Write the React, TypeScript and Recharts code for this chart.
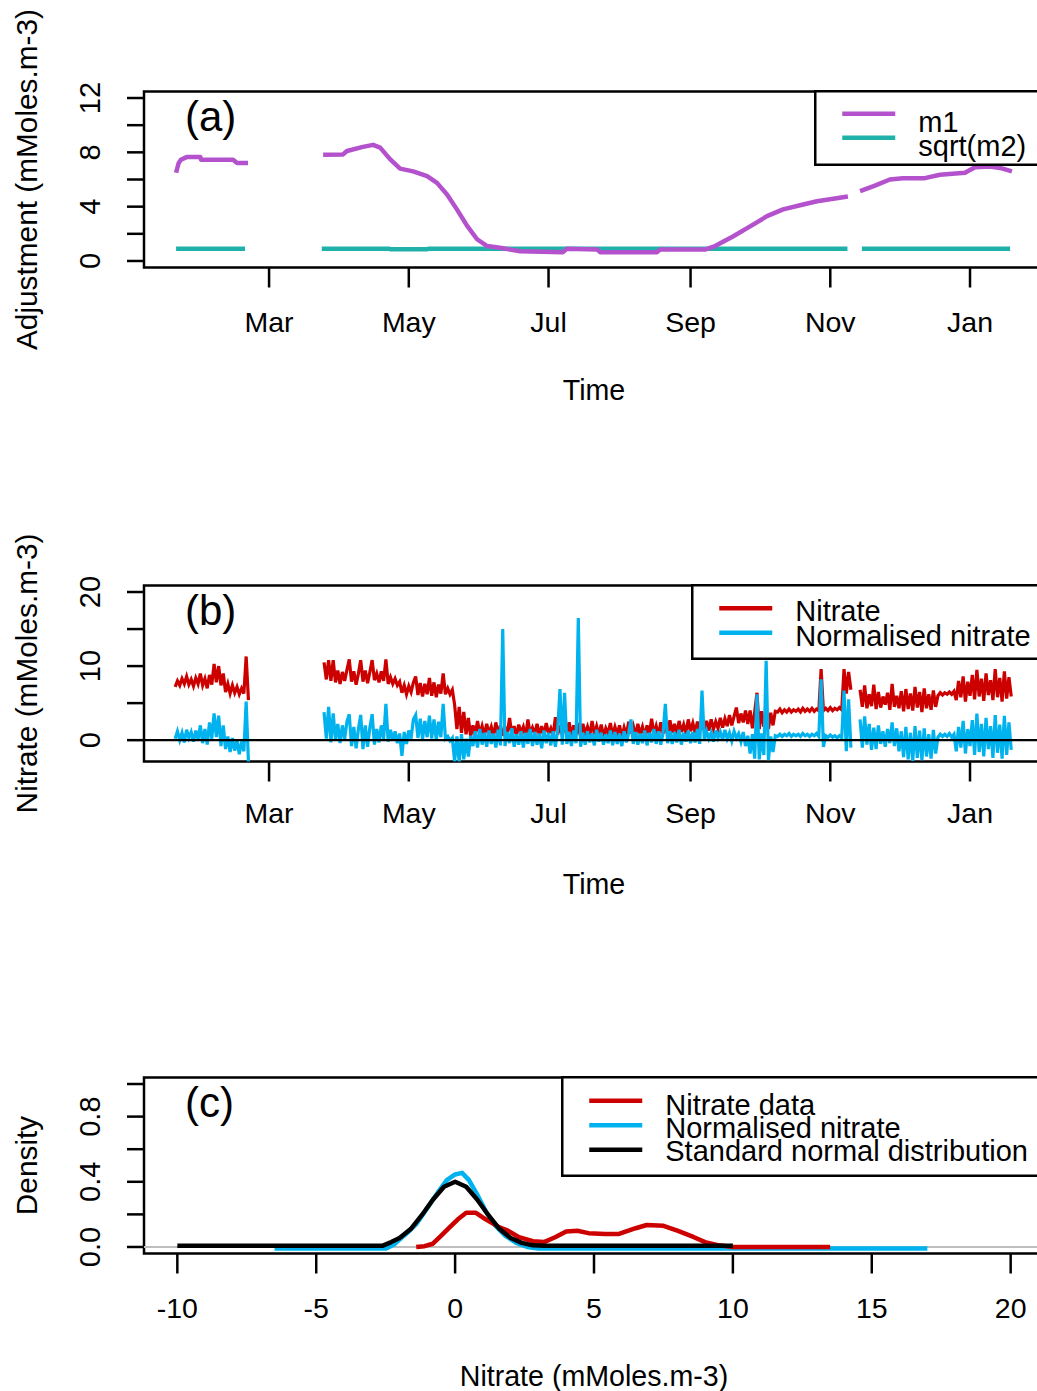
import React from 'react';
import { LineChart, Line, XAxis, YAxis, ReferenceLine, ReferenceArea, Legend, Label } from 'recharts';

const FONT = '"Liberation Sans", Arial, Helvetica, sans-serif';
const FS_XTICK = 28.5;
const FS_YTICK = 29;
const FS_XTITLE = 28.6;
const FS_YTITLE = 29.8;
const FS_LEGEND = 29;
const FS_LETTER = 42;

const PURPLE = '#B452CD';
const TEAL = '#20B2AA';
const RED = '#CD0000';
const BLUE = '#00B2EE';
const GREY = '#BEBEBE';

// ---------- time axis (day of year, Jan 1 = 0) ----------
const monthTicks = [59, 120, 181, 243, 304, 365];
const monthLabels = ['Mar', 'May', 'Jul', 'Sep', 'Nov', 'Jan'];
const dayDomain: [number, number] = [4.4, 397.3];

// ---------- panel (a) ----------
const adjTicks = [0, 2, 4, 6, 8, 10, 12];
const adjLabelled = [0, 4, 8, 12];
const adjDomain: [number, number] = [-0.48, 12.48];

const m1: Array<[number, number | null]> = [
  [18.4, 6.5], [19.5, 7.2], [20.5, 7.45], [23, 7.65], [29, 7.65], [29.3, 7.45], [43.3, 7.45], [45, 7.22], [49.8, 7.22],
  [66, null],
  [82.6, 7.82], [91.3, 7.85], [93, 8.1], [100, 8.4], [104.4, 8.55], [107.5, 8.35], [111.8, 7.5], [116.2, 6.8],
  [121.9, 6.6], [128, 6.25], [132.3, 5.75], [136.7, 4.9], [141, 3.8], [145.4, 2.6], [149.8, 1.6], [154.2, 1.1],
  [159.8, 0.97], [168.6, 0.72], [187.3, 0.65], [189, 0.9], [202.2, 0.85], [203.5, 0.65], [228.4, 0.65], [229.7, 0.84],
  [249.3, 0.84], [253.7, 1.1], [261.5, 1.8], [269, 2.55], [276.4, 3.3], [283.4, 3.8], [290.8, 4.1], [298.2, 4.4],
  [311.7, 4.75],
  [314, null],
  [317, 5.15], [323.5, 5.55], [330, 6.0], [335.7, 6.1], [345.3, 6.1], [351.9, 6.35], [362.8, 6.5], [367.2, 6.9],
  [373.7, 6.95], [378.1, 6.85], [383.3, 6.6],
];

const sqrtM2: Array<[number, number | null]> = [
  [18.4, 0.9], [48.5, 0.9],
  [66, null],
  [82, 0.9], [111.5, 0.9], [112, 0.86], [128, 0.86], [128.5, 0.9], [311.5, 0.9],
  [314, null],
  [317.8, 0.9], [382.5, 0.9],
];

// ---------- panel (b) ----------
const nitTicks = [0, 5, 10, 15, 20];
const nitLabelled = [0, 10, 20];
const nitDomain: [number, number] = [-2.88, 20.88];

// daily values; segments start on these days
const segStartDays = [18, 83, 317];

const nitrateA = [
  7.2, 8.0, 7.4, 8.3, 7.6, 8.6, 7.5, 8.2, 7.3, 8.4,
  7.6, 9.0, 7.4, 8.3, 7.0, 8.8, 7.5, 10.3, 7.8, 10.0,
  7.4, 9.0, 6.5, 7.6, 6.3, 7.4, 6.4, 7.2, 6.2, 7.0,
  6.3, 11.3, 5.4,
];
const normA = [
  0.2, 1.2, 0.0, 1.0, -0.3, 1.4, 0.3, 1.1, -0.2, 1.3,
  0.1, 2.0, -0.4, 1.5, -0.6, 2.4, 0.2, 3.6, 0.4, 3.3,
  -0.8, 2.0, -1.2, 0.5, -1.6, 0.3, -1.4, 0.0, -1.9, -0.2,
  -1.5, 5.2, -3.0,
];

const nitrateBC = [
  10.5, 8.2, 10.8, 8.0, 10.8, 7.8, 9.4, 7.6, 9.2, 8.0,
  9.5, 10.9, 7.9, 9.3, 7.5, 9.0, 10.8, 7.9, 9.4, 7.7,
  9.2, 10.8, 8.1, 9.0, 7.8, 9.3, 8.0, 10.9, 7.6, 8.5,
  7.6, 8.3, 7.4, 7.9, 6.4, 7.4, 6.2, 7.3, 6.5, 7.8,
  8.6, 6.1, 7.7, 5.9, 7.6, 6.2, 8.4, 6.0, 7.8, 5.8,
  7.5, 6.3, 9.0, 6.2, 7.0, 6.2, 6.8, 4.8, 1.5, 4.5,
  1.0, 3.8, 0.8, 3.0, 0.5, 2.0, 0.7, 2.6, 0.8, 1.9,
  0.6, 2.2, 0.9, 1.8, 0.5, 2.4, 0.8, 2.0, 0.6, 1.7,
  0.9, 3.0, 0.7, 1.9, 0.6, 2.1, 1.0, 1.8, 0.5, 2.8,
  0.8, 1.7, 0.9, 2.2, 0.6, 1.9, 0.7, 2.3, 0.9, 1.6,
  0.6, 3.1, 0.8, 2.0, 0.7, 1.8, 1.0, 2.4, 0.6, 2.0,
  0.8, 1.7, 0.5, 2.2, 0.9, 1.8, 0.6, 2.6, 0.8, 1.9,
  0.7, 2.1, 0.5, 1.6, 0.9, 2.3, 0.6, 1.8, 0.8, 2.0,
  0.4, 1.7, 0.7, 2.5, 0.9, 1.9, 0.6, 2.2, 0.8, 1.8,
  0.5, 2.0, 0.7, 2.9, 0.8, 1.9, 0.6, 2.4, 0.9, 2.0,
  0.7, 2.7, 1.0, 2.2, 0.8, 2.6, 1.1, 2.1, 0.9, 2.8,
  1.2, 2.3, 1.0, 2.5, 1.3, 2.2, 1.4, 2.6, 1.3, 2.8,
  1.5, 2.5, 1.6, 3.0, 1.7, 2.9, 1.9, 3.4, 2.0, 3.2,
  4.4, 2.3, 3.6, 2.4, 4.0, 2.2, 4.0, 1.6, 3.8, 6.4,
  1.5, 3.9, 1.8, 4.2, 1.5, 3.7, 2.0, 3.9, 3.8, 4.2,
  3.7, 4.1, 3.8, 4.2, 3.8, 4.1, 3.9, 4.2, 3.8, 4.3,
  3.9, 4.2, 3.9, 4.3, 3.9, 4.2, 4.0, 9.6, 4.0, 4.3,
  4.0, 4.4, 4.0, 4.3, 4.1, 4.4, 4.1, 9.6, 6.3, 9.2,
  6.8,
];
const normBC = [
  3.8, 0.2, 4.5, -0.3, 3.6, 0.0, 2.2, -0.4, 2.0, 0.2,
  2.5, 3.5, -0.8, 1.8, -1.1, 1.5, 3.4, -1.2, 2.0, -0.9,
  1.7, 3.5, -0.6, 1.5, -0.3, 2.0, 0.1, 4.9, -0.2, 1.4,
  0.0, 1.2, -0.4, 0.9, -2.1, 1.1, -0.5, 1.3, 0.2, 2.8,
  3.4, 0.3, 2.9, 0.1, 2.6, 0.4, 3.3, 0.2, 2.8, 0.0,
  2.5, 0.4, 4.9, 0.2, 0.5, -0.1, 0.3, -2.9, 0.5, -3.0,
  0.8, -2.6, 0.2, -2.2, 0.6, -0.8, 1.2, -1.0, 1.5, -0.6,
  1.0, -0.9, 1.3, -0.5, 0.9, -1.0, 1.4, -0.7, 15.0, -0.8,
  1.1, -0.4, 1.6, -0.9, 0.8, -0.6, 1.2, -1.0, 1.0, -0.5,
  1.5, -0.8, 1.1, -0.6, 0.9, -1.1, 1.3, -0.4, 1.0, -0.7,
  1.2, -0.9, 1.4, 6.9, -0.6, 6.4, -0.5, 1.1, -0.8, 1.3,
  -0.4, 16.5, -0.9, 1.0, -0.6, 1.2, -0.3, 0.9, -0.7, 1.4,
  -0.2, 1.0, -0.6, 0.8, -0.4, 1.3, -0.7, 1.1, -0.5, 0.9,
  -0.8, 1.2, -0.3, 1.0, 2.8, -0.5, 1.1, -0.6, 0.9, -0.4,
  1.3, -0.7, 1.0, -0.3, 1.5, -0.5, 1.2, -0.6, 1.0, 4.9,
  -0.4, 1.2, -0.5, 1.1, -0.3, 1.4, -0.6, 1.0, -0.2, 1.3,
  -0.4, 1.1, -0.3, 1.5, -0.5, 6.7, 0.0, 1.2, 0.2, 1.0,
  -0.2, 1.3, 0.3, 1.1, 0.0, 1.4, 0.2, 1.0, -0.1, 1.2,
  0.3, 0.9, -0.2, 1.1, -0.8, 0.6, -1.8, 0.8, -2.5, 6.2,
  -2.6, 0.9, -2.0, 10.7, -2.7, 0.5, -1.6, 0.6, 0.5, 0.8,
  0.5, 0.8, 0.6, 0.9, 0.5, 0.8, 0.6, 0.8, 0.5, 0.9,
  0.6, 0.8, 0.5, 0.8, 0.6, 0.9, 0.5, 8.2, -0.9, 0.6,
  0.4, 0.7, 0.4, 0.6, 0.3, 0.6, 0.3, 6.7, -1.5, 5.5,
  -1.0,
];

const nitrateD = [
  6.8, 4.5, 7.4, 4.3, 6.2, 4.6, 7.5, 4.2, 6.5, 4.4,
  5.9, 4.8, 6.4, 4.1, 7.6, 4.5, 6.0, 4.3, 6.6, 3.9,
  6.9, 4.2, 6.3, 4.0, 7.2, 4.4, 6.5, 3.8, 7.0, 4.3,
  6.2, 4.1, 6.7, 4.5, 6.0, 6.4, 6.1, 6.4, 6.2, 6.5,
  6.2, 6.6, 5.4, 8.0, 5.8, 8.6, 5.2, 7.9, 6.0, 8.8,
  5.5, 9.5, 5.9, 8.3, 5.3, 9.0, 6.1, 8.1, 5.4, 9.6,
  5.8, 8.4, 5.2, 9.3, 5.6, 8.5, 5.9,
];
const normD = [
  2.8, -1.0, 3.2, -0.6, 2.2, -1.3, 1.7, -1.2, 2.0, -0.5,
  1.2, -0.9, 1.5, -0.4, 2.4, -0.8, 1.6, -1.5, 1.2, -2.3,
  1.8, -2.6, 1.0, -2.8, 1.9, -2.4, 1.3, -2.7, 1.6, -2.2,
  0.8, -2.5, 1.4, -1.8, 0.4, 0.8, 0.5, 0.8, 0.5, 0.9,
  0.4, 0.8, -1.5, 1.8, -1.0, 2.6, -1.8, 1.5, -0.8, 2.7,
  -2.0, 3.6, -1.6, 2.2, -2.2, 3.0, -1.2, 1.9, -2.4, 3.4,
  -1.7, 2.1, -2.5, 3.3, -2.0, 2.4, -1.3,
];

// ---------- panel (c) ----------
const densTicks = [0, 0.2, 0.4, 0.6, 0.8, 1.0];
const densLabelled = [0, 0.4, 0.8];
const densDomain: [number, number] = [-0.04, 1.04];
const densXTicks = [-10, -5, 0, 5, 10, 15, 20];
const densXDomain: [number, number] = [-11.2, 21.2];

const nitrateDensity: Array<[number, number]> = [
  [-1.4, 0], [-1.1, 0.005], [-0.8, 0.02], [-0.5, 0.07], [-0.2, 0.12], [0.1, 0.17], [0.4, 0.21], [0.75, 0.21],
  [1.1, 0.17], [1.6, 0.12], [1.9, 0.1], [2.3, 0.06], [2.8, 0.035], [3.2, 0.03], [3.6, 0.06], [4.0, 0.095],
  [4.4, 0.1], [4.8, 0.085], [5.4, 0.08], [5.9, 0.08], [6.5, 0.115], [6.9, 0.135], [7.5, 0.13], [8.0, 0.1],
  [8.6, 0.06], [9.0, 0.03], [9.5, 0.01], [10, 0.0], [13.5, 0.0],
];
const normDensity: Array<[number, number]> = [
  [-6.5, -0.01], [-2.5, -0.01], [-2.2, 0.015], [-2.0, 0.045], [-1.7, 0.09], [-1.4, 0.14], [-1.0, 0.24],
  [-0.6, 0.34], [-0.3, 0.41], [0.0, 0.445], [0.25, 0.455], [0.5, 0.41], [0.8, 0.32], [1.1, 0.22], [1.4, 0.14],
  [1.8, 0.07], [2.2, 0.025], [2.6, 0.0], [3.0, -0.01], [17, -0.01],
];
const stdNormDensity: Array<[number, number]> = [
  [-10, 0.008], [-2.6, 0.008], [-2.3, 0.03], [-2.0, 0.055], [-1.6, 0.11], [-1.2, 0.195], [-0.8, 0.29],
  [-0.4, 0.37], [0, 0.4], [0.4, 0.37], [0.8, 0.29], [1.2, 0.195], [1.6, 0.11], [2.0, 0.055], [2.4, 0.025],
  [2.8, 0.01], [3.2, 0.008], [10, 0.008],
];

// ---------- helpers ----------
const pairRows = (pts: Array<[number, number | null]>) => pts.map(([x, v]) => ({ x, v }));

function dailyRows(starts: number[], segs: number[][]) {
  const rows: Array<{ x: number; v: number | null }> = [];
  segs.forEach((seg, i) => {
    if (i > 0) {
      const prevEnd = starts[i - 1] + segs[i - 1].length - 1;
      rows.push({ x: (prevEnd + starts[i]) / 2, v: null });
    }
    seg.forEach((v, j) => rows.push({ x: starts[i] + j, v }));
  });
  return rows;
}

const m1Rows = pairRows(m1);
const m2Rows = pairRows(sqrtM2);
const nitrateRows = dailyRows(segStartDays, [nitrateA, nitrateBC, nitrateD]);
const normRows = dailyRows(segStartDays, [normA, normBC, normD]);
const nitDensRows = pairRows(nitrateDensity);
const normDensRows = pairRows(normDensity);
const stdDensRows = pairRows(stdNormDensity);

// ---------- layout ----------
const CHART_W = 1080;
const PLOT_TOP = 91.5;
const PLOT_H = 176;
const MARGIN = { top: PLOT_TOP, right: 36, bottom: 0, left: 0 };
const Y_AXIS_W = 144;

const txt = (fs: number) => ({ fontSize: fs, fontFamily: FONT, fill: '#000' });

const monthTick = (props: any) => {
  const { x, y, payload } = props;
  const i = monthTicks.indexOf(payload.value);
  return (
    <text x={x} y={y} dy="0.71em" textAnchor="middle" {...txt(FS_XTICK)}>
      {monthLabels[i]}
    </text>
  );
};

const numTick = (props: any) => {
  const { x, y, payload } = props;
  return (
    <text x={x} y={y} dy="0.71em" textAnchor="middle" {...txt(FS_XTICK)}>
      {String(payload.value)}
    </text>
  );
};

const makeYTick = (labelled: number[], fmt: (v: number) => string) => (props: any) => {
  const { x, y, payload } = props;
  const v = Number(payload.value);
  if (!labelled.some((l) => Math.abs(l - v) < 1e-9)) return <g />;
  return (
    <text x={x} y={y} transform={`rotate(-90 ${x} ${y})`} textAnchor="middle" {...txt(FS_YTICK)}>
      {fmt(v)}
    </text>
  );
};

const xTitle = (title: string) => (props: any) => {
  const vb = props.viewBox || {};
  return (
    <text x={vb.x + vb.width / 2} y={vb.y + 132} textAnchor="middle" {...txt(FS_XTITLE)}>
      {title}
    </text>
  );
};

const yTitle = (title: string) => (props: any) => {
  const vb = props.viewBox || {};
  const cy = vb.y + vb.height / 2;
  const x = 37;
  return (
    <text x={x} y={cy} transform={`rotate(-90 ${x} ${cy})`} textAnchor="middle" {...txt(FS_YTITLE)}>
      {title}
    </text>
  );
};

const panelLetter = (letter: string) => (props: any) => {
  const vb = props.viewBox || {};
  return (
    <text x={vb.x + 41} y={vb.y + 39} {...txt(FS_LETTER)}>
      {letter}
    </text>
  );
};

type LegItem = { color: string; label: string; lineY: number; textY: number };
const legendContent = (items: LegItem[], boxH: number, lineW: number) => () => (
  <svg width={460} height={boxH + 3} style={{ display: 'block', overflow: 'visible' }}>
    <rect x={1.25} y={1.25} width={500} height={boxH} fill="#fff" stroke="#000" strokeWidth={2.5} />
    {items.map((it) => (
      <g key={it.label}>
        <line x1={1.25 + 27} x2={1.25 + 80} y1={1.25 + it.lineY} y2={1.25 + it.lineY} stroke={it.color} strokeWidth={lineW} />
        <text x={1.25 + 103} y={1.25 + it.textY} {...txt(FS_LEGEND)}>
          {it.label}
        </text>
      </g>
    ))}
  </svg>
);

const legendA: LegItem[] = [
  { color: PURPLE, label: 'm1', lineY: 22.5, textY: 40.5 },
  { color: TEAL, label: 'sqrt(m2)', lineY: 46.5, textY: 64.5 },
];
const legendB: LegItem[] = [
  { color: RED, label: 'Nitrate', lineY: 23, textY: 36 },
  { color: BLUE, label: 'Normalised nitrate', lineY: 47.5, textY: 60.5 },
];
const legendC: LegItem[] = [
  { color: RED, label: 'Nitrate data', lineY: 23.5, textY: 37.5 },
  { color: BLUE, label: 'Normalised nitrate', lineY: 48, textY: 60.5 },
  { color: '#000', label: 'Standard normal distribution', lineY: 72.5, textY: 84 },
];

const legendWrap = (left: number, h: number) => ({
  position: 'absolute' as const,
  left: left - 1.25,
  top: PLOT_TOP - 1.25,
  width: 460,
  height: h + 3,
  lineHeight: 0,
});

const boxProps = { fill: 'none', fillOpacity: 0, stroke: '#000', strokeWidth: 2.5, ifOverflow: 'visible' as const };
const tickLineStyle = { stroke: '#000', strokeWidth: 2.5 };

export default function App() {
  return (
    <div
      style={{
        position: 'absolute',
        left: 0,
        top: 0,
        width: 1037,
        height: 1391,
        overflow: 'hidden',
        background: '#fff',
      }}
    >
      {/* Panel (a) */}
      <div style={{ position: 'absolute', left: 0, top: 0 }}>
        <LineChart width={CHART_W} height={460} margin={MARGIN}>
          <XAxis
            dataKey="x"
            type="number"
            domain={dayDomain}
            allowDataOverflow
            ticks={monthTicks}
            interval={0}
            height={460 - PLOT_TOP - PLOT_H}
            axisLine={false}
            tickLine={tickLineStyle}
            tickSize={20}
            tickMargin={24}
            tick={monthTick}
            label={<Label content={xTitle('Time')} />}
          />
          <YAxis
            type="number"
            domain={adjDomain}
            allowDataOverflow
            ticks={adjTicks}
            interval={0}
            width={Y_AXIS_W}
            axisLine={false}
            tickLine={tickLineStyle}
            tickSize={17}
            tickMargin={27}
            tick={makeYTick(adjLabelled, (v) => String(v))}
            label={<Label content={yTitle('Adjustment (mMoles.m-3)')} />}
          />
          <ReferenceArea
            x1={dayDomain[0]}
            x2={dayDomain[1]}
            y1={adjDomain[0]}
            y2={adjDomain[1]}
            {...boxProps}
            label={<Label content={panelLetter('(a)')} />}
          />
          <Line data={m2Rows} dataKey="v" stroke={TEAL} strokeWidth={4.5} dot={false} activeDot={false} isAnimationActive={false} connectNulls={false} strokeLinejoin="round" />
          <Line data={m1Rows} dataKey="v" stroke={PURPLE} strokeWidth={4.5} dot={false} activeDot={false} isAnimationActive={false} connectNulls={false} strokeLinejoin="round" />
          <Legend
            layout="vertical"
            align="center"
            verticalAlign="middle"
            wrapperStyle={legendWrap(815, 73.5)}
            content={legendContent(legendA, 73.5, 4.5)}
          />
        </LineChart>
      </div>

      {/* Panel (b) */}
      <div style={{ position: 'absolute', left: 0, top: 494 }}>
        <LineChart width={CHART_W} height={460} margin={MARGIN}>
          <XAxis
            dataKey="x"
            type="number"
            domain={dayDomain}
            allowDataOverflow
            ticks={monthTicks}
            interval={0}
            height={460 - PLOT_TOP - PLOT_H}
            axisLine={false}
            tickLine={tickLineStyle}
            tickSize={20}
            tickMargin={21}
            tick={monthTick}
            label={<Label content={xTitle('Time')} />}
          />
          <YAxis
            type="number"
            domain={nitDomain}
            allowDataOverflow
            ticks={nitTicks}
            interval={0}
            width={Y_AXIS_W}
            axisLine={false}
            tickLine={tickLineStyle}
            tickSize={17}
            tickMargin={27}
            tick={makeYTick(nitLabelled, (v) => String(v))}
            label={<Label content={yTitle('Nitrate (mMoles.m-3)')} />}
          />
          <ReferenceArea
            x1={dayDomain[0]}
            x2={dayDomain[1]}
            y1={nitDomain[0]}
            y2={nitDomain[1]}
            {...boxProps}
            label={<Label content={panelLetter('(b)')} />}
          />
          <Line data={nitrateRows} dataKey="v" stroke={RED} strokeWidth={3.2} dot={false} activeDot={false} isAnimationActive={false} connectNulls={false} strokeLinejoin="miter" />
          <Line data={normRows} dataKey="v" stroke={BLUE} strokeWidth={3.2} dot={false} activeDot={false} isAnimationActive={false} connectNulls={false} strokeLinejoin="miter" />
          <ReferenceLine y={0} stroke="#000" strokeWidth={2.2} ifOverflow="visible" />
          <Legend
            layout="vertical"
            align="center"
            verticalAlign="middle"
            wrapperStyle={legendWrap(692, 73.5)}
            content={legendContent(legendB, 73.5, 4.5)}
          />
        </LineChart>
      </div>

      {/* Panel (c) */}
      <div style={{ position: 'absolute', left: 0, top: 986 }}>
        <LineChart width={CHART_W} height={405} margin={MARGIN}>
          <XAxis
            dataKey="x"
            type="number"
            domain={densXDomain}
            allowDataOverflow
            ticks={densXTicks}
            interval={0}
            height={405 - PLOT_TOP - PLOT_H}
            axisLine={false}
            tickLine={tickLineStyle}
            tickSize={20}
            tickMargin={24}
            tick={numTick}
            label={<Label content={xTitle('Nitrate (mMoles.m-3)')} />}
          />
          <YAxis
            type="number"
            domain={densDomain}
            allowDataOverflow
            ticks={densTicks}
            interval={0}
            width={Y_AXIS_W}
            axisLine={false}
            tickLine={tickLineStyle}
            tickSize={17}
            tickMargin={27}
            tick={makeYTick(densLabelled, (v) => v.toFixed(1))}
            label={<Label content={yTitle('Density')} />}
          />
          <ReferenceArea
            x1={densXDomain[0]}
            x2={densXDomain[1]}
            y1={densDomain[0]}
            y2={densDomain[1]}
            {...boxProps}
            label={<Label content={panelLetter('(c)')} />}
          />
          <ReferenceLine y={0} stroke={GREY} strokeWidth={2} ifOverflow="visible" />
          <Line data={normDensRows} dataKey="v" stroke={BLUE} strokeWidth={4.5} dot={false} activeDot={false} isAnimationActive={false} strokeLinejoin="round" />
          <Line data={nitDensRows} dataKey="v" stroke={RED} strokeWidth={4.5} dot={false} activeDot={false} isAnimationActive={false} strokeLinejoin="round" />
          <Line data={stdDensRows} dataKey="v" stroke="#000" strokeWidth={4.5} dot={false} activeDot={false} isAnimationActive={false} strokeLinejoin="round" />
          <Legend
            layout="vertical"
            align="center"
            verticalAlign="middle"
            wrapperStyle={legendWrap(562, 98.5)}
            content={legendContent(legendC, 98.5, 4.5)}
          />
        </LineChart>
      </div>
    </div>
  );
}
